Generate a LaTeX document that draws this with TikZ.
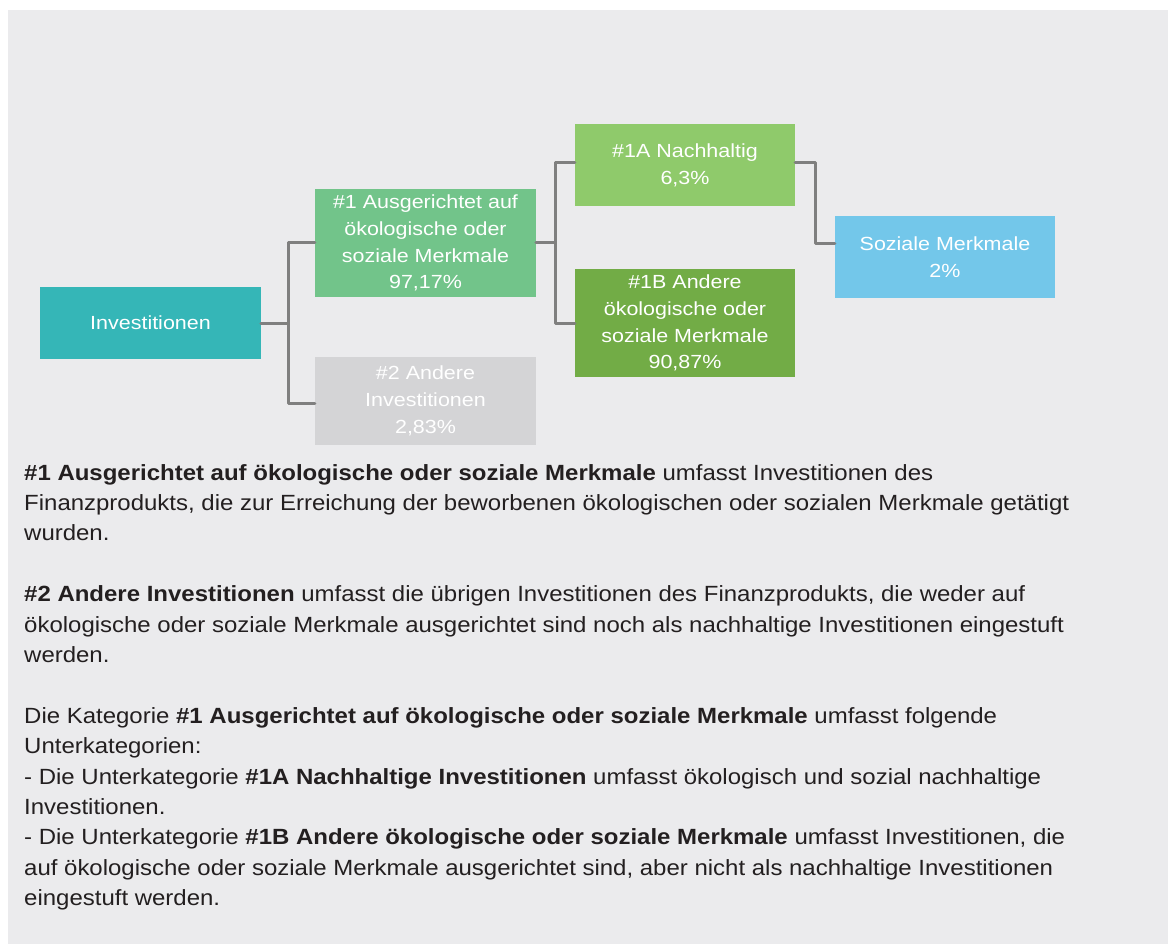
\documentclass[tikz,border=0pt]{standalone}
\usepackage{fontspec}
\setmainfont{Liberation Sans}[FakeStretch=1.09]
\newfontfamily\boxfont{Liberation Sans}[FakeStretch=1.13]
\usetikzlibrary{calc}
\definecolor{bg}{HTML}{EBEBED}
\definecolor{cteal}{HTML}{35B6B7}
\definecolor{cgreen}{HTML}{72C48A}
\definecolor{cgrey}{HTML}{D4D4D6}
\definecolor{clime}{HTML}{8FCA6B}
\definecolor{cdark}{HTML}{72AC46}
\definecolor{cblue}{HTML}{73C7EA}
\definecolor{cline}{HTML}{7F7F7F}
\definecolor{ctext}{HTML}{231F20}
\tikzset{
  box/.style={inner sep=0pt, align=center, text=white, minimum width=221pt,
    font=\boxfont\fontsize{19pt}{26.7pt}\selectfont},
  conn/.style={draw=cline, line width=3pt, line cap=round, line join=round},
  body/.style={anchor=base west, inner sep=0pt, text=ctext,
    font=\fontsize{22pt}{26pt}\selectfont}
}
\begin{document}
\begin{tikzpicture}[x=1pt,y=-1pt]
\useasboundingbox (0,0) rectangle (1168,944);
\fill[bg] (8,10) rectangle (1168,944);
% boxes
\node[box, fill=cteal, minimum height=72pt] (inv) at (150.5,323) {Investitionen};
\node[box, fill=cgreen, minimum height=108pt] (g1) at (425.5,243) {\#1 Ausgerichtet auf\\ökologische oder\\soziale Merkmale\\97,17\%};
\node[box, fill=cgrey, minimum height=88pt] (g2) at (425.5,401) {\#2 Andere\\Investitionen\\2,83\%};
\node[box, fill=clime, minimum width=220pt, minimum height=82pt] (a1) at (685,165) {\#1A Nachhaltig\\6,3\%};
\node[box, fill=cdark, minimum width=220pt, minimum height=108pt] (b1) at (685,323) {\#1B Andere\\ökologische oder\\soziale Merkmale\\90,87\%};
\node[box, fill=cblue, minimum width=220pt, minimum height=82pt] (soz) at (945,257) {Soziale Merkmale\\2\%};
% connectors
\draw[conn] (inv.east) -- ++(27,0) |- (g1.west);
\draw[conn] (inv.east) -- ++(27,0) |- ($(g2.west)+(0,2)$);
\draw[conn] (g1.east) -- ++(19,0) |- ($(a1.west)+(0,-2)$);
\draw[conn] (g1.east) -- ++(19,0) |- (b1.west);
\draw[conn] ($(a1.east)+(0,-2)$) -- ++(20,0) |- ($(soz.west)+(0,-13)$);
% body text
\node[body] (t1) at (24,480) {\textbf{\#1 Ausgerichtet auf ökologische oder soziale Merkmale} umfasst Investitionen des};
\node[body] (t2) at (24,510.4) {Finanzprodukts, die zur Erreichung der beworbenen ökologischen oder sozialen Merkmale getätigt};
\node[body] (t3) at (24,540.8) {wurden.};
\node[body] (t4) at (24,601.6) {\textbf{\#2 Andere Investitionen} umfasst die übrigen Investitionen des Finanzprodukts, die weder auf};
\node[body] (t5) at (24,632) {ökologische oder soziale Merkmale ausgerichtet sind noch als nachhaltige Investitionen eingestuft};
\node[body] (t6) at (24,662.4) {werden.};
\node[body] (t7) at (24,723.2) {Die Kategorie \textbf{\#1 Ausgerichtet auf ökologische oder soziale Merkmale} umfasst folgende};
\node[body] (t8) at (24,753.6) {Unterkategorien:};
\node[body] (t9) at (24,784) {- Die Unterkategorie \textbf{\#1A Nachhaltige Investitionen} umfasst ökologisch und sozial nachhaltige};
\node[body] (t10) at (24,814.4) {Investitionen.};
\node[body] (t11) at (24,844.8) {- Die Unterkategorie \textbf{\#1B Andere ökologische oder soziale Merkmale} umfasst Investitionen, die};
\node[body] (t12) at (24,875.2) {auf ökologische oder soziale Merkmale ausgerichtet sind, aber nicht als nachhaltige Investitionen};
\node[body] (t13) at (24,905.6) {eingestuft werden.};
\end{tikzpicture}
\end{document}
